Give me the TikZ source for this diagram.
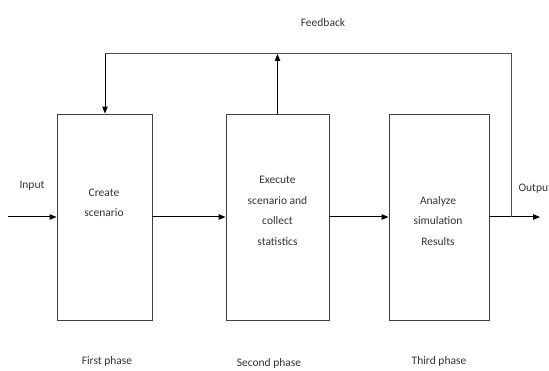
\documentclass[tikz,border=0pt]{standalone}
\usepackage{fontspec}
\setmainfont{Carlito}
\usetikzlibrary{arrows.meta,positioning}
\begin{document}
\begin{tikzpicture}[
    x=1pt, y=-1pt,
    phase/.style={rectangle, draw=black!75, line width=0.9pt, inner sep=0pt},
    boxtext/.style={align=center, text=black!80, font=\fontsize{11.5}{20.5}\selectfont},
    caption/.style={text=black!80, font=\fontsize{11.5}{14}\selectfont},
    arrow/.style={-{Triangle[length=7pt,width=5.5pt]}, line width=1pt},
    line/.style={draw=black!70, line width=1pt}
]
    \useasboundingbox (0,0) rectangle (549,371);
    % the three phases
    \node[phase, minimum width=95pt, minimum height=206pt] (create) at (104.5,217) {};
    \node[phase, minimum width=103pt, minimum height=206pt] (execute) at (277.5,217) {};
    \node[phase, minimum width=100pt, minimum height=206pt] (analyze) at (439,217) {};

    \node[boxtext] (tcreate) at (104,203) {Create\\scenario};
    \node[boxtext] (texecute) at (277.5,211) {Execute\\scenario and\\collect\\statistics};
    \node[boxtext] (tanalyze) at (438,221) {Analyze\\simulation\\Results};

    \node[caption] (first) at (107,361) {First phase};
    \node[caption] (second) at (269,363) {Second phase};
    \node[caption] (third) at (439,361) {Third phase};

    \node[caption] (input) at (32,186) {Input};
    \node[caption, anchor=west] (output) at (515,189) {Output};
    \node[caption] (feedback) at (323,23) {Feedback};

    \coordinate (start) at (8,217);
    \coordinate (tap) at (511,217);
    \coordinate (finish) at (540,217);
    \coordinate (fbleft) at (105,54);
    \coordinate (fbright) at (511,54);

    \draw[arrow] (start) -- (create.west);
    \draw[arrow] (create.east) -- (execute.west);
    \draw[arrow] (execute.east) -- (analyze.west);
    \draw[arrow] (analyze.east) -- (finish);

    % feedback loop
    \draw[line] (tap) -- (fbright) -- (fbleft);
    \draw[arrow] (fbleft) -- (fbleft |- create.north);
    \draw[arrow, line width=0.8pt] (execute.north) -- (execute.north |- fbleft);
\end{tikzpicture}
\end{document}
